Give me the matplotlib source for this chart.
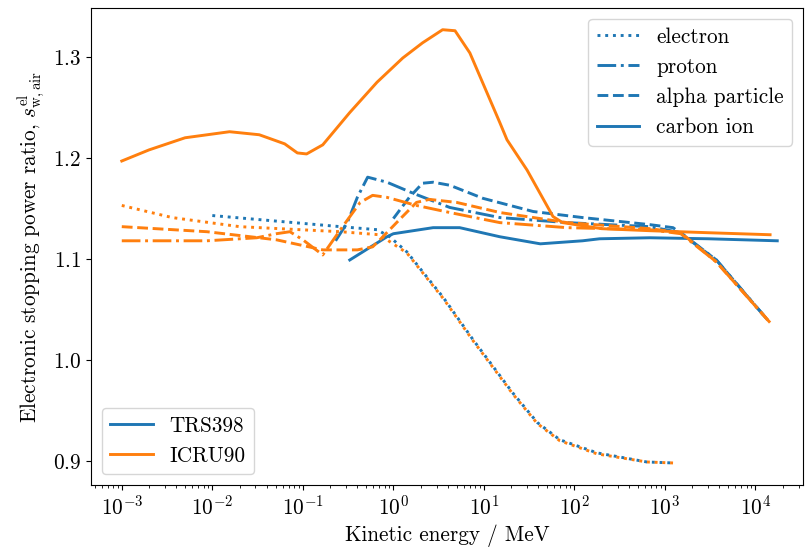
import numpy as np
import matplotlib
matplotlib.use('Agg')
import matplotlib.pyplot as plt
from matplotlib.lines import Line2D

plt.rcParams['font.family'] = 'serif'
plt.rcParams['font.serif'] = ['cmr10']
plt.rcParams['mathtext.fontset'] = 'cm'
plt.rcParams['axes.formatter.use_mathtext'] = True
plt.rcParams['font.size'] = 15.3

# kinetic energy (MeV) and stopping power ratio
# TRS398
trs_e_E = [0.01, 0.26, 0.66, 0.91, 1.41, 2.5, 3.55, 7.6, 21, 39, 69, 178, 630, 1250]
trs_e_S = [1.143, 1.132, 1.129, 1.122, 1.107, 1.079, 1.062, 1.020, 0.967, 0.938, 0.921, 0.908, 0.899, 0.898]
trs_p_E = [0.23, 0.31, 0.40, 0.52, 0.85, 1.66, 4.2, 15, 83, 680, 1500, 3700, 13500]
trs_p_S = [1.118, 1.136, 1.161, 1.181, 1.176, 1.165, 1.151, 1.141, 1.136, 1.132, 1.126, 1.099, 1.040]
trs_a_E = [1.0, 1.5, 2.1, 2.75, 4.2, 9.8, 35, 123, 680, 1230, 3700, 13500]
trs_a_S = [1.140, 1.161, 1.175, 1.176, 1.173, 1.160, 1.147, 1.141, 1.134, 1.131, 1.099, 1.040]
trs_c_E = [0.33, 0.85, 1.0, 2.75, 5.4, 15, 42, 123, 190, 680, 3000, 17400]
trs_c_S = [1.099, 1.122, 1.125, 1.131, 1.131, 1.122, 1.115, 1.118, 1.120, 1.121, 1.120, 1.118]

# ICRU90
icru_e_E = [0.001, 0.0036, 0.02, 0.26, 0.7, 1.41, 2.5, 3.55, 7.6, 21, 39, 69, 178, 630, 1250]
icru_e_S = [1.153, 1.141, 1.132, 1.127, 1.124, 1.106, 1.078, 1.061, 1.019, 0.966, 0.937, 0.920, 0.907, 0.899, 0.898]
icru_p_E = [0.001, 0.0087, 0.031, 0.051, 0.072, 0.1, 0.166, 0.275, 0.43, 0.59, 0.85, 1.8, 4.2, 15, 83, 680, 1500, 3700, 14500]
icru_p_S = [1.118, 1.118, 1.121, 1.125, 1.127, 1.119, 1.104, 1.132, 1.156, 1.163, 1.161, 1.153, 1.146, 1.136, 1.131, 1.129, 1.125, 1.097, 1.037]
icru_a_E = [0.001, 0.0087, 0.051, 0.166, 0.4, 0.59, 0.71, 1.17, 1.8, 2.5, 5, 15, 83, 680, 1500, 3700, 14500]
icru_a_S = [1.132, 1.127, 1.119, 1.109, 1.109, 1.112, 1.119, 1.139, 1.156, 1.159, 1.156, 1.146, 1.136, 1.130, 1.126, 1.097, 1.037]
icru_c_E = [0.001, 0.002, 0.005, 0.0155, 0.033, 0.063, 0.087, 0.11, 0.166, 0.33, 0.66, 1.27, 2.1, 3.5, 4.8, 7, 15, 18, 30, 58, 74, 200, 680, 3000, 14500]
icru_c_S = [1.197, 1.208, 1.220, 1.226, 1.223, 1.214, 1.205, 1.204, 1.213, 1.245, 1.275, 1.299, 1.314, 1.327, 1.326, 1.304, 1.235, 1.218, 1.188, 1.142, 1.136, 1.130, 1.128, 1.126, 1.124]

particles = ['electron', 'proton', 'alpha particle', 'carbon ion']
styles = [':', '-.', '--', '-']
sources = ['TRS398', 'ICRU90']
colors = ['C0', 'C1']

data = {
    'TRS398': [(trs_e_E, trs_e_S), (trs_p_E, trs_p_S), (trs_a_E, trs_a_S), (trs_c_E, trs_c_S)],
    'ICRU90': [(icru_e_E, icru_e_S), (icru_p_E, icru_p_S), (icru_a_E, icru_a_S), (icru_c_E, icru_c_S)],
}

fig = plt.figure(figsize=(8.05, 5.54), dpi=100)
ax = fig.add_axes([91/805, 69/554, 712/805, 477/554])

lw = 2.1
for src, col in zip(sources, colors):
    for (E, S), ls in zip(data[src], styles):
        ax.plot(E, S, ls=ls, color=col, lw=lw)

ax.set_xscale('log')
ax.set_xlim(10**-3.34, 10**4.525)
ax.set_ylim(0.8762, 1.3485)
ax.set_yticks([0.9, 1.0, 1.1, 1.2, 1.3])
ax.set_xticks([10.0**k for k in range(-3, 5)])
ax.set_xlabel('Kinetic energy / MeV')
ax.set_ylabel(r'Electronic stopping power ratio, $s^{\mathrm{el}}_{\mathrm{w,air}}$')

h1 = [Line2D([], [], color='C0', ls=ls, lw=lw) for ls in styles]
leg1 = ax.legend(h1, particles, loc='upper right')
ax.add_artist(leg1)
h2 = [Line2D([], [], color=c, ls='-', lw=lw) for c in colors]
ax.legend(h2, sources, loc='lower left')

fig.savefig('out.png', dpi=100)
